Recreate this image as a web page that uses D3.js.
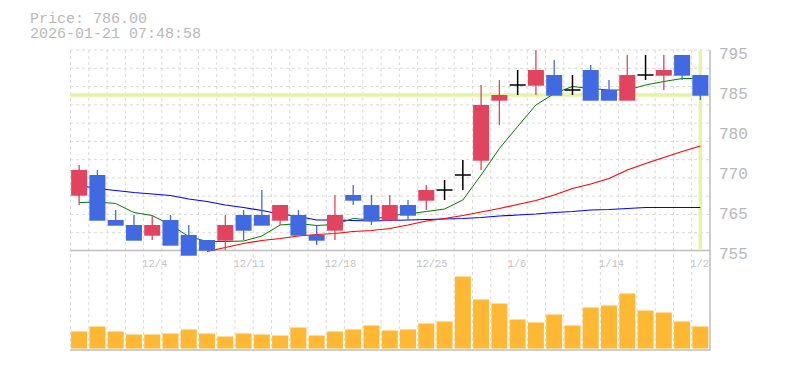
<!DOCTYPE html>
<head>
<meta charset="utf-8">
<title></title>
<style>
body { margin: 0; background: #fff; }
text { font-family: "Liberation Mono", "DejaVu Sans Mono", monospace; }
</style>
</head>
<body>
<script src="https://d3js.org/d3.v7.min.js"></script>
<script>

var dates = ["11/28","12/1","12/2","12/3","12/4","12/5","12/8","12/9","12/10","12/11",
  "12/12","12/15","12/16","12/17","12/18","12/19","12/22","12/23","12/24","12/25",
  "12/26","12/29","12/30","1/5","1/6","1/7","1/8","1/9","1/13","1/14",
  "1/15","1/16","1/19","1/20","1/21"];

var labelDates = ["12/4","12/11","12/18","12/25","1/6","1/14","1/21"];

var open  = [766,770,761,760,758,761,758,757,757,762,762,761,762,758,759,766,764,761,764,765,
  767,770,773,785,788,788,790,787,791,787,785,790,790,794,790];
var close = [771,761,760,757,760,756,754,755,760,759,760,764,758,757,762,765,761,764,762,767,
  767,770,784,786,788,791,786,787,785,785,790,790,791,790,786];
var high  = [772,771,763,762,762,762,760,757,762,763,767,764,763,760,766,768,766,766,765,768,
  769,773,788,789,791,795,793,790,792,789,794,794,794,794,790];
var low   = [764,761,760,757,757,756,754,755,755,757,760,760,758,756,757,764,760,761,761,763,
  765,767,771,780,786,786,786,786,785,785,785,789,787,789,785];

// volume, thousands of shares
var volume = [17,22,17,14,14,15,19,15,12,15,14,13,21,13,17,19,23,18,19,25,
  27,72,49,45,29,26,34,23,41,43,55,38,36,27,22];

// moving averages (null = not available yet)
var ma5 = [764.5,764.6,764.3,762.5,761.9,760.0,757.7,756.7,756.7,756.8,757.8,760.0,760.3,759.9,760.1,
  761.3,761.0,761.9,762.2,762.7,763.2,765.0,770.0,775.3,779.7,784.0,786.3,787.7,787.3,787.0,
  787.0,788.0,788.7,789.3,789.3];
var ma25 = [null,null,null,null,null,null,null,754.7,755.5,756.3,756.9,757.3,757.8,758.1,758.3,
  758.7,758.9,759.3,760.0,760.8,761.3,761.9,762.6,763.3,764.1,764.9,766.0,767.3,768.2,769.3,
  771.0,772.3,773.5,774.7,775.8];
var ma75 = [767.9,767.3,766.9,766.5,766.2,765.9,765.2,764.7,764.0,763.5,762.9,762.2,761.7,761.0,761.0,
  760.9,760.8,760.9,761.0,761.1,761.2,761.3,761.5,761.8,762.0,762.2,762.5,762.7,763.0,763.1,
  763.3,763.5,763.5,763.5,763.5];

var priceTicks = [795,787,779,771,763,755];
var priceTickLabels = ["795","785","780","770","765","755"];

var lastPrice = 786.00;
var stamp = "2026-01-21 07:48:58";

var width = 785,
    height = 370;

var svg = d3.select("body").append("svg")
    .attr("width", width)
    .attr("height", height);

var x = d3.scaleBand()
    .domain(dates)
    .range([70, 709.5])
    .padding(0);

var y = d3.scaleLinear()
    .domain([755, 795])
    .range([250, 50]);

var yVol = d3.scaleLinear()
    .domain([0, 100])
    .range([348.5, 248.5]);

var bw = 16;
var cx = function(i) { return x(dates[i]) + x.bandwidth() / 2; };

var gridColor = "#d9d9d9",
    axisColor = "#bdbdbd",
    textColor = "#b8b8b8";

// title
svg.append("text")
    .attr("x", 30).attr("y", 22.5)
    .attr("fill", textColor)
    .style("font-size", "15px")
    .text("Price: " + lastPrice.toFixed(2));
svg.append("text")
    .attr("x", 30).attr("y", 38)
    .attr("fill", textColor)
    .style("font-size", "15px")
    .text(stamp);

// grid
var grid = svg.append("g");
var hRows = d3.range(0, 11);
grid.selectAll("line.h")
    .data(hRows)
    .enter().append("line")
    .attr("x1", 70).attr("x2", 710)
    .attr("y1", function(k) { return y.range()[1] + k * x.step(); })
    .attr("y2", function(k) { return y.range()[1] + k * x.step(); })
    .attr("stroke", gridColor)
    .attr("stroke-dasharray", "3,3");

grid.selectAll("line.v")
    .data(dates)
    .enter().append("line")
    .attr("x1", function(d) { return x(d) + 0.5; })
    .attr("x2", function(d) { return x(d) + 0.5; })
    .attr("y1", 50).attr("y2", 350)
    .attr("stroke", gridColor)
    .attr("stroke-dasharray", "3,3");

// current price markers
svg.append("line")
    .attr("x1", 70).attr("x2", 710)
    .attr("y1", y(lastPrice)).attr("y2", y(lastPrice))
    .attr("stroke", "#e3f5a2")
    .attr("stroke-width", 3.5);
svg.append("line")
    .attr("x1", cx(dates.length - 1)).attr("x2", cx(dates.length - 1))
    .attr("y1", 50).attr("y2", 249)
    .attr("stroke", "#e3f5a2")
    .attr("stroke-width", 3.5);

// axes lines
svg.append("line")
    .attr("x1", 70).attr("x2", 710).attr("y1", 250.5).attr("y2", 250.5)
    .attr("stroke", axisColor).attr("stroke-width", 1.5);
svg.append("line")
    .attr("x1", 70).attr("x2", 710).attr("y1", 350).attr("y2", 350)
    .attr("stroke", axisColor).attr("stroke-width", 1.5);
svg.append("line")
    .attr("x1", 710).attr("x2", 710).attr("y1", 50).attr("y2", 350.5)
    .attr("stroke", axisColor).attr("stroke-width", 1.5);

// price labels
svg.selectAll("text.ptick")
    .data(priceTicks)
    .enter().append("text")
    .attr("class", "ptick")
    .attr("x", 719)
    .attr("y", function(d) { return y(d) + 8.5; })
    .attr("fill", textColor)
    .style("font-size", "16px")
    .text(function(d, i) { return priceTickLabels[i]; });

// date labels, clipped to the plot
svg.append("clipPath").attr("id", "plotclip")
  .append("rect").attr("x", 70).attr("y", 0).attr("width", 640).attr("height", 370);

svg.append("g")
    .attr("clip-path", "url(#plotclip)")
    .selectAll("text")
    .data(labelDates)
    .enter().append("text")
    .attr("x", function(d) { return x(d) - 1; })
    .attr("y", 266.5)
    .attr("fill", "#c2c2c2")
    .style("font-size", "10.5px")
    .text(function(d) { return d; });

// volume bars
svg.append("g").selectAll("rect")
    .data(volume)
    .enter().append("rect")
    .attr("x", function(d, i) { return cx(i) - bw / 2; })
    .attr("y", function(d) { return yVol(d); })
    .attr("width", bw)
    .attr("height", function(d) { return yVol(0) - yVol(d); })
    .attr("fill", "#ffb833");

// moving averages
function maLine(values, color, w) {
  var line = d3.line()
      .defined(function(d) { return d != null; })
      .x(function(d, i) { return cx(i); })
      .y(function(d) { return y(d); });
  svg.append("path")
      .datum(values)
      .attr("fill", "none")
      .attr("stroke", color)
      .attr("stroke-width", w)
      .attr("d", line);
}
maLine(ma75, "#0000ff", 1.2);
maLine(ma25, "#ff0000", 1.2);
maLine(ma5, "#007a00", 1);

// candles
var upColor = "#e2435e",
    downColor = "#4169e1";
var candles = svg.append("g").selectAll("g")
    .data(dates)
    .enter().append("g");

function candleColor(i) {
  if (close[i] > open[i]) return upColor;
  if (close[i] < open[i]) return downColor;
  return "#000";
}

candles.append("line")
    .attr("x1", function(d, i) { return cx(i); })
    .attr("x2", function(d, i) { return cx(i); })
    .attr("y1", function(d, i) { return y(high[i]); })
    .attr("y2", function(d, i) { return y(low[i]); })
    .attr("stroke", function(d, i) { return candleColor(i); })
    .attr("stroke-width", function(d, i) { return open[i] == close[i] ? 1.5 : 1.3; });

candles.filter(function(d, i) { return open[i] != close[i]; })
  .append("rect")
    .attr("x", function(d) { return cx(dates.indexOf(d)) - bw / 2; })
    .attr("y", function(d) { var i = dates.indexOf(d); return y(Math.max(open[i], close[i])); })
    .attr("width", bw)
    .attr("height", function(d) { var i = dates.indexOf(d); return Math.abs(y(open[i]) - y(close[i])) + 0.7; })
    .attr("fill", function(d) { return candleColor(dates.indexOf(d)); });

candles.filter(function(d, i) { return open[i] == close[i]; })
  .append("line")
    .attr("x1", function(d) { return cx(dates.indexOf(d)) - bw / 2; })
    .attr("x2", function(d) { return cx(dates.indexOf(d)) + bw / 2; })
    .attr("y1", function(d) { return y(open[dates.indexOf(d)]); })
    .attr("y2", function(d) { return y(open[dates.indexOf(d)]); })
    .attr("stroke", "#000")
    .attr("stroke-width", 1.5);

</script>
</body>
</html>
